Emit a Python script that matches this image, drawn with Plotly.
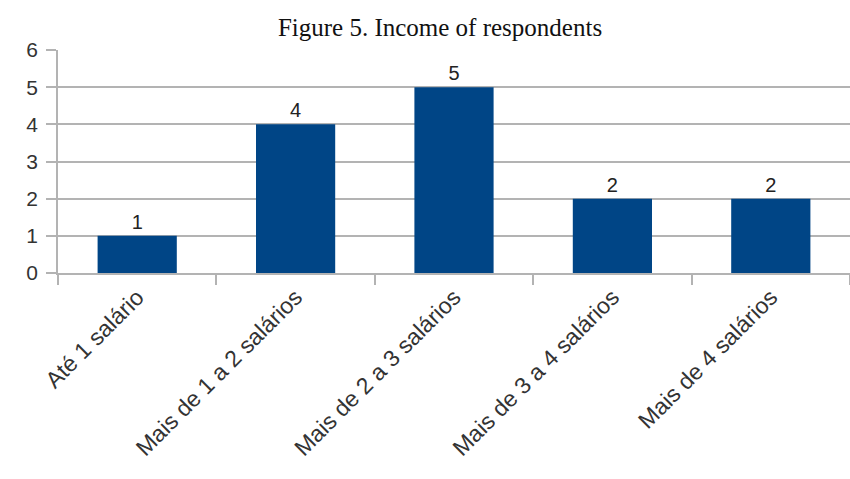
import plotly.graph_objects as go

categories = ["Até 1 salário", "Mais de 1 a 2 salários", "Mais de 2 a 3 salários",
              "Mais de 3 a 4 salários", "Mais de 4 salários"]
values = [1, 4, 5, 2, 2]
y_ticks = [0, 1, 2, 3, 4, 5, 6]
title_text = "Figure 5. Income of respondents"

fig = go.Figure(go.Bar(
    x=categories, y=values,
    marker=dict(color="#004586", line=dict(width=0)),
    text=[str(v) for v in values], textposition="outside",
    textfont=dict(family="Liberation Sans, Arial, sans-serif", size=20, color="#222222"),
    cliponaxis=False,
))

fig.update_layout(
    width=850, height=479,
    margin=dict(l=58, r=0, t=50, b=206, autoexpand=False),
    paper_bgcolor="white", plot_bgcolor="white",
    bargap=0.5,
    showlegend=False,
    title=dict(text=title_text, x=440/850, xanchor="center", xref="container",
               y=1 - 27/479, yanchor="middle", yref="container",
               font=dict(family="Liberation Serif, Times New Roman, serif", size=25, color="#111111")),
    font=dict(family="Liberation Sans, Arial, sans-serif", color="#333333"),
)

fig.update_xaxes(
    type="category", tickson="boundaries", ticks="outside", ticklen=10,
    tickcolor="#b3b3b3", tickwidth=1.5,
    showline=True, linecolor="#b3b3b3", linewidth=1.5,
    showgrid=False, tickangle=-45, automargin=False,
    tickfont=dict(size=23, color="#333333"),
)
fig.update_yaxes(
    range=[0, 6], tickvals=y_ticks, ticks="outside", ticklen=10,
    tickcolor="#b3b3b3", tickwidth=1.5,
    showline=True, linecolor="#b3b3b3", linewidth=1.5,
    showgrid=True, gridcolor="#b3b3b3", gridwidth=1.5,
    zeroline=False, automargin=False, ticklabelstandoff=4,
    tickfont=dict(size=21, color="#333333"),
)

fig.write_html("out.html")
